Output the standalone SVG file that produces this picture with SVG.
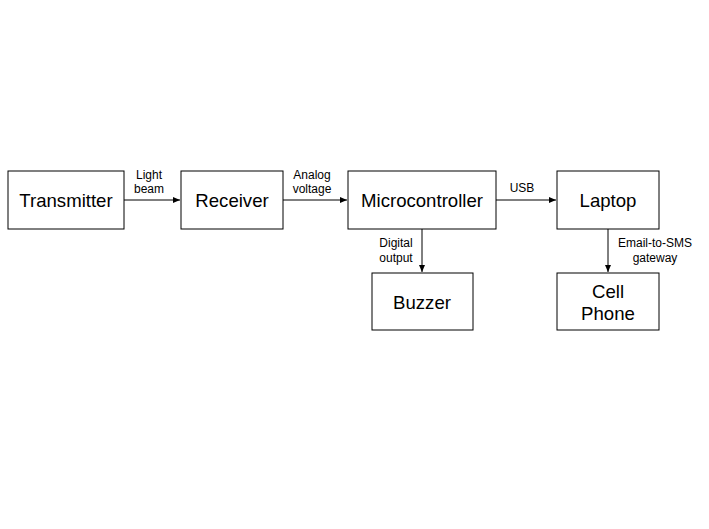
<svg xmlns="http://www.w3.org/2000/svg" width="709" height="529" viewBox="0 0 709 529">
<defs>
<marker id="ah" markerWidth="8" markerHeight="8" refX="7" refY="4" orient="auto" markerUnits="userSpaceOnUse">
<path d="M0,1 L7,4 L0,7 Z" fill="#000"/>
</marker>
<style>
.box{fill:#fff;stroke:#000;stroke-width:1}
.nt{font-family:"Liberation Sans",Arial,sans-serif;font-size:18.6px;fill:#000;text-anchor:middle}
.lt{font-family:"Liberation Sans",Arial,sans-serif;font-size:12px;fill:#000;text-anchor:middle}
.c{stroke:#000;stroke-width:1;fill:none;marker-end:url(#ah)}
</style>
</defs>
<rect width="709" height="529" fill="#fff"/>
<g id="connectors">
<line class="c" x1="124" y1="200" x2="180" y2="200"/>
<line class="c" x1="283" y1="200" x2="347" y2="200"/>
<line class="c" x1="496" y1="200" x2="556" y2="200"/>
<line class="c" x1="422" y1="229" x2="422" y2="272"/>
<line class="c" x1="608" y1="229" x2="608" y2="272"/>
<text class="lt" x="149" y="179">Light</text>
<text class="lt" x="149" y="193">beam</text>
<text class="lt" x="312" y="179">Analog</text>
<text class="lt" x="312" y="193">voltage</text>
<text class="lt" x="522" y="192">USB</text>
<text class="lt" x="396" y="247">Digital</text>
<text class="lt" x="396" y="262">output</text>
<text class="lt" x="655" y="247">Email-to-SMS</text>
<text class="lt" x="655" y="262">gateway</text>
</g>
<g id="transmitter"><rect class="box" x="8" y="171" width="116" height="58"/><text class="nt" x="66" y="207">Transmitter</text></g>
<g id="receiver"><rect class="box" x="181" y="171" width="102" height="58"/><text class="nt" x="232" y="207">Receiver</text></g>
<g id="microcontroller"><rect class="box" x="348" y="171" width="148" height="58"/><text class="nt" x="422" y="207">Microcontroller</text></g>
<g id="laptop"><rect class="box" x="557" y="171" width="102" height="58"/><text class="nt" x="608" y="207">Laptop</text></g>
<g id="buzzer"><rect class="box" x="372" y="273" width="101" height="57"/><text class="nt" x="422" y="309">Buzzer</text></g>
<g id="cellphone"><rect class="box" x="557" y="273" width="102" height="57"/><text class="nt" x="608" y="298">Cell</text><text class="nt" x="608" y="320">Phone</text></g>
</svg>
